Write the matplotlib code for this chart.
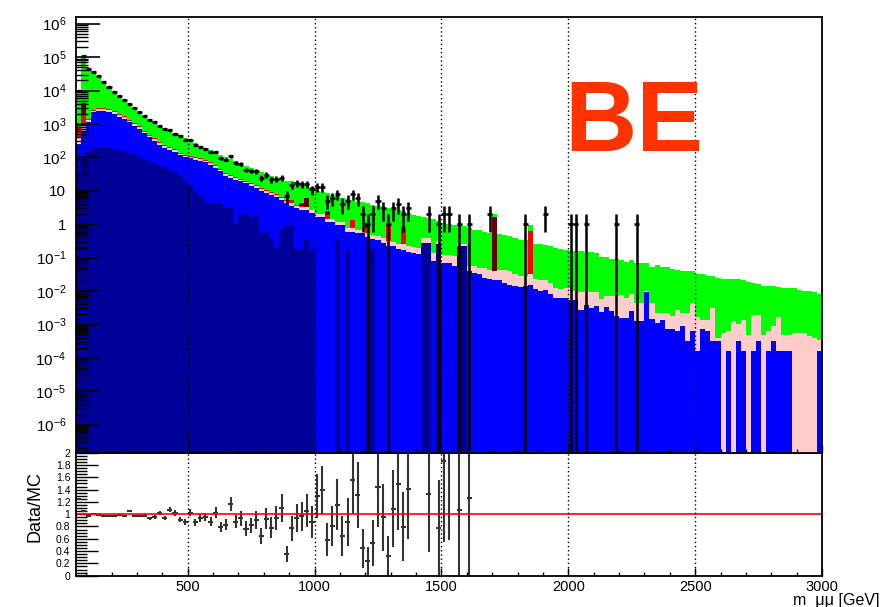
import numpy as np
import matplotlib
matplotlib.use("Agg")
import matplotlib.pyplot as plt
from matplotlib.ticker import LogLocator, MultipleLocator, NullFormatter

plt.rcParams['font.family'] = ['Liberation Sans', 'DejaVu Sans']
plt.rcParams['mathtext.fontset'] = 'custom'
plt.rcParams['mathtext.rm'] = 'Liberation Sans'
plt.rcParams['mathtext.it'] = 'Liberation Sans:italic'
plt.rcParams['mathtext.bf'] = 'Liberation Sans:bold'

# 20 GeV bins from 60 to 3000 GeV
edges = np.arange(60, 3001, 20)
nb = len(edges) - 1

# log10 of the top of each cumulative stack layer
# total MC (green on top)
total_top = [
    3.90, 5.00, 4.66, 4.57, 4.44, 4.27, 4.12, 3.97, 3.84, 3.72,
    3.58, 3.49, 3.37, 3.24, 3.16, 3.07, 2.94, 2.88, 2.78, 2.70,
    2.67, 2.59, 2.50, 2.42, 2.34, 2.28, 2.22, 2.15, 2.08, 2.01,
    1.96, 1.89, 1.83, 1.75, 1.69, 1.62, 1.57, 1.51, 1.45, 1.39,
    1.34, 1.30, 1.29, 1.26, 1.22, 1.18, 1.10, 1.00, 0.97, 0.93,
    0.87, 0.84, 0.79, 0.76, 0.71, 0.66, 0.65, 0.63, 0.58, 0.54,
    0.50, 0.49, 0.44, 0.43, 0.40, 0.33, 0.28, 0.25, 0.22, 0.18,
    0.15, 0.11, 0.03, 0.00, -0.02, -0.03, -0.06, -0.10, -0.16, -0.18,
    -0.22, -0.26, 0.31, -0.28, -0.31, -0.36, -0.41, -0.46, -0.48, -0.03,
    -0.58, -0.58, -0.63, -0.66, -0.71, -0.74, -0.76, -0.77, -0.79, -0.81,
    -0.84, -0.84, -0.86, -0.98, -0.98, -1.03, -1.03, -1.06, -1.13, -1.08,
    -1.16, -1.16, -1.16, -1.28, -1.21, -1.28, -1.28, -1.33, -1.36, -1.39,
    -1.39, -1.39, -1.48, -1.48, -1.54, -1.54, -1.61, -1.63, -1.63, -1.63,
    -1.63, -1.68, -1.73, -1.76, -1.79, -1.84, -1.84, -1.84, -1.89, -1.91,
    -1.91, -1.91, -1.96, -1.99, -1.99, -2.04, -2.09,
]

# top of pink layer
pink_top = [
    2.62, 2.98, 3.11, 3.40, 3.45, 3.45, 3.42, 3.35, 3.27, 3.20,
    3.10, 3.00, 2.90, 2.77, 2.65, 2.55, 2.43, 2.34, 2.28, 2.21,
    2.11, 2.05, 2.02, 1.98, 1.95, 1.90, 1.83, 1.73, 1.63, 1.50,
    1.43, 1.38, 1.33, 1.27, 1.20, 1.13, 1.04, 0.99, 0.94, 0.86,
    0.78, 0.70, 0.62, 0.55, 0.50, 0.50, 0.41, 0.31, 0.30, 0.16,
    0.15, 0.08, 0.07, -0.11, -0.12, -0.16, -0.16, -0.26, -0.32, -0.35,
    -0.42, -0.50, -0.52, -0.58, -0.60, -0.66, -0.68, -0.70, -0.41, -0.41,
    -0.85, -0.50, -0.92, -0.92, -0.95, -0.58, -0.58, -1.24, -1.26, -1.31,
    -1.31, -1.36, -1.41, -1.38, -1.38, -1.41, -1.49, -1.56, -1.56, -1.48,
    -1.63, -1.66, -1.66, -1.76, -1.91, -1.94, -1.91, -1.91, -2.00, -2.03,
    -2.01, -2.04, -2.04, -2.24, -2.16, -2.14, -2.14, -2.12, -2.20, -2.09,
    -2.36, -2.36, -2.00, -2.36, -2.66, -2.66, -2.66, -2.76, -2.56, -2.66,
    -2.66, -2.36, -2.78, -2.86, -2.86, -2.51, -3.41, -3.26, -3.21, -2.91,
    -2.98, -2.86, -3.31, -2.71, -2.71, -3.31, -3.21, -3.06, -2.79, -3.31,
    -3.31, -3.26, -3.26, -3.26, -3.36, -3.41, -3.46,
]

# top of blue layer (None = empty bin)
blue_top = [
    2.40, 2.80, 3.06, 3.35, 3.40, 3.40, 3.37, 3.30, 3.22, 3.15,
    3.05, 2.95, 2.85, 2.72, 2.60, 2.50, 2.38, 2.29, 2.23, 2.16,
    2.06, 2.00, 1.97, 1.93, 1.90, 1.85, 1.78, 1.68, 1.58, 1.45,
    1.38, 1.33, 1.28, 1.22, 1.15, 1.08, 0.98, 0.93, 0.88, 0.80,
    0.72, 0.63, 0.55, 0.48, 0.43, 0.43, 0.33, 0.23, 0.22, 0.08,
    0.06, -0.02, -0.02, -0.22, -0.22, -0.27, -0.27, -0.38, -0.45, -0.48,
    -0.56, -0.64, -0.66, -0.74, -0.76, -0.84, -0.86, -0.90, -0.56, -0.56,
    -1.11, -0.58, -1.16, -1.16, -1.26, -0.64, -0.64, -1.41, -1.46, -1.50,
    -1.62, -1.64, -1.66, -1.68, -1.76, -1.82, -1.86, -1.88, -1.85, -1.82,
    -1.94, -2.00, -1.98, -2.10, -2.20, -2.20, -2.20, -2.26, -2.28, -2.58,
    -2.41, -2.51, -2.44, -2.64, -2.48, -2.59, -2.76, -2.81, -2.81, -2.61,
    -2.91, -2.91, -2.04, -2.84, -2.96, -2.86, -3.13, -3.13, -3.21, -3.04,
    -3.51, -3.21, -3.81, -3.14, -3.21, -3.51, -3.51, None, -3.81, None,
    -3.51, -3.81, None, -3.81, -3.51, None, -3.81, -3.51, -3.81, -3.81,
    -3.81, None, None, None, None, None, -3.81,
]

# dark navy layer (bottom): bins 0-46, then a few single bins
navy_low = [
    1.60, 2.00, 2.18, 2.30, 2.31, 2.31, 2.30, 2.26, 2.22, 2.20,
    2.14, 2.10, 2.00, 1.95, 1.88, 1.82, 1.78, 1.70, 1.62, 1.55,
    1.45, 1.30, 1.15, 1.00, 0.85, 0.70, 0.60, 0.64, 0.62, 0.48,
    0.50, 0.04, 0.28, 0.30, 0.18, 0.25, -0.26, -0.24, -0.41, -0.71,
    -0.16, -0.05, -0.05, -0.73, -0.73, -0.44, -0.73,
]
navy_high = {51: -0.44, 53: -0.73, 57: -0.44, 58: -0.73, 68: -0.56,
             69: -0.56, 71: -0.58, 75: -0.66, 76: -0.66}

# thin red layer above pink, and a few tall red / dark red bins
red_low = [
    2.90, 3.28, 3.14, 3.43, 3.48, 3.48, 3.45, 3.38, 3.30, 3.23,
    3.13, 3.03, 2.93, 2.80, 2.68, 2.58, 2.46, 2.37, 2.31, 2.24,
    2.14, 2.08, 2.05, 2.01, 1.98, 1.93, 1.86, 1.76, 1.66, 1.53,
    1.46, 1.41, 1.36, 1.30, 1.23, 1.16, 1.07, 1.02, 0.97, 0.89,
    0.81, 0.73, 0.73, 0.58, 0.53, 0.52,
]
red_high = {49: 0.28, 54: 0.14, 57: -0.11, 61: 0.00, 64: -0.08, 89: -0.19}
darkred_top = {1: 3.63, 37: 1.03, 44: 0.63, 45: 0.79, 49: 0.38, 57: 0.03, 82: 0.23}

# observed events
data_low = [
    9850, 105000, 44000, 37000, 27000, 18200, 12900, 9100, 6800, 5100,
    4000, 3000, 2290, 1700, 1350, 1120, 890, 710, 645, 513,
    427, 339, 324, 229, 204, 182, 145, 145, 95, 85,
    107, 68, 63, 43, 40, 38, 24, 30, 22, 23,
    24, 7, 15, 17, 16, 16, 11, 13, 13, 5,
    6, 8, 4, 5, 8, 6, 2, 1, 2, 5,
    3, 1, 3, 4, 2, 3, 0, 0, 0, 2,
    0, 1, 2, 2, 0, 1, 0, 1,
]
data_high = {81: 2, 88: 1, 92: 2, 97: 1, 98: 1, 100: 1, 106: 1, 110: 1}

# ---- assemble cumulative layers
TINY = 1e-12
def lv(v):
    return TINY if v is None else 10.0 ** v

navy = [navy_low[k] if k < len(navy_low) else navy_high.get(k) for k in range(nb)]
red = [red_low[k] if k < len(red_low) else red_high.get(k, pink_top[k]) for k in range(nb)]
dkred = [darkred_top.get(k, red[k]) for k in range(nb)]

layers = [
    (total_top, '#00ff00'),
    (dkred, '#660000'),
    (red, '#ff0000'),
    (pink_top, '#ffcccc'),
    (blue_top, '#0000ff'),
    (navy, '#000099'),
]

data = np.array([data_low[k] if k < len(data_low) else data_high.get(k, 0) for k in range(nb)], float)
centers = 0.5 * (edges[:-1] + edges[1:])
mc = np.array([lv(v) for v in total_top])

fig = plt.figure(figsize=(8.86, 6.07), dpi=100)
ax_r = fig.add_axes([0.0858, 0.0516, 0.842, 0.2026])
ax = fig.add_axes([0.0858, 0.2542, 0.842, 0.718])

for vals, col in layers:
    ax.stairs([lv(v) for v in vals], edges, baseline=TINY, fill=True, color=col, lw=0)

sel = data > 0
n = data[sel]
err = np.sqrt(n)
lo = n - np.maximum(n - err, TINY)
ax.errorbar(centers[sel], n, yerr=[lo, err], xerr=10, fmt='s', ms=2, color='black',
            elinewidth=1.8, capsize=0)

ax.set_yscale('log')
ax.set_xlim(60, 3000)
ax.set_ylim(1.45e-7, 1.6e6)
exps = list(range(-6, 7))
ylabels = []
for e in exps:
    if e == 0:
        ylabels.append('1')
    elif e == 1:
        ylabels.append('10')
    else:
        ylabels.append(r'$10^{%d}$' % e)
ax.set_yticks([10.0 ** e for e in exps], labels=ylabels)
ax.yaxis.set_minor_locator(LogLocator(base=10, subs=np.arange(2, 10), numticks=100))
ax.yaxis.set_minor_formatter(NullFormatter())
ax.xaxis.set_major_locator(MultipleLocator(500))
ax.xaxis.set_minor_locator(MultipleLocator(100))
ax.tick_params(axis='y', which='major', direction='in', length=17, width=1.2, pad=7, labelsize=11)
ax.tick_params(axis='y', which='minor', direction='in', length=8.5, width=1.0)
ax.tick_params(axis='x', which='major', direction='in', length=5.8, width=1.0, labelbottom=False)
ax.tick_params(axis='x', which='minor', direction='in', length=2.9, width=1.0)
for g in range(500, 3000, 500):
    ax.axvline(g, color='black', ls=(0, (1, 2)), lw=1)
for s in ax.spines.values():
    s.set_linewidth(1.3)

# ratio panel
ratio = data / mc
rerr = np.sqrt(data) / mc
rs = (data > 0) & (ratio <= 2)
ax_r.errorbar(centers[rs], ratio[rs], yerr=rerr[rs], xerr=10, fmt='none',
              ecolor='#333333', elinewidth=1.5, capsize=0)
ax_r.axhline(1, color='red', lw=1.2)
for g in range(500, 3000, 500):
    ax_r.axvline(g, color='black', ls=(0, (1, 2)), lw=1)
ax_r.set_xlim(60, 3000)
ax_r.set_ylim(0, 2)
rt = np.round(np.arange(0, 2.01, 0.2), 1)
ax_r.set_yticks(rt, labels=['%g' % t for t in rt])
ax_r.yaxis.set_minor_locator(MultipleLocator(0.05))
ax_r.xaxis.set_major_locator(MultipleLocator(500))
ax_r.xaxis.set_minor_locator(MultipleLocator(100))
ax_r.tick_params(axis='y', which='major', direction='in', length=16, width=1.0, pad=4, labelsize=7.5)
ax_r.tick_params(axis='y', which='minor', direction='in', length=8, width=1.0)
ax_r.tick_params(axis='x', which='major', direction='in', length=5.8, width=1.0, pad=3, labelsize=10.5)
ax_r.tick_params(axis='x', which='minor', direction='in', length=2.9, width=1.0)
for s in ax_r.spines.values():
    s.set_linewidth(1.3)

fig.text(0.0395, 0.165, 'Data/MC', rotation=90, ha='center', va='center', fontsize=13)
fig.text(0.993, 0.003, 'm  \u03bc\u03bc [GeV]', ha='right', va='baseline', fontsize=11.5)
fig.text(0.637, 0.751, 'BE', ha='left', va='baseline', fontsize=72, fontweight='bold',
         color='#ff3300')

fig.savefig('out.png', dpi=100)
